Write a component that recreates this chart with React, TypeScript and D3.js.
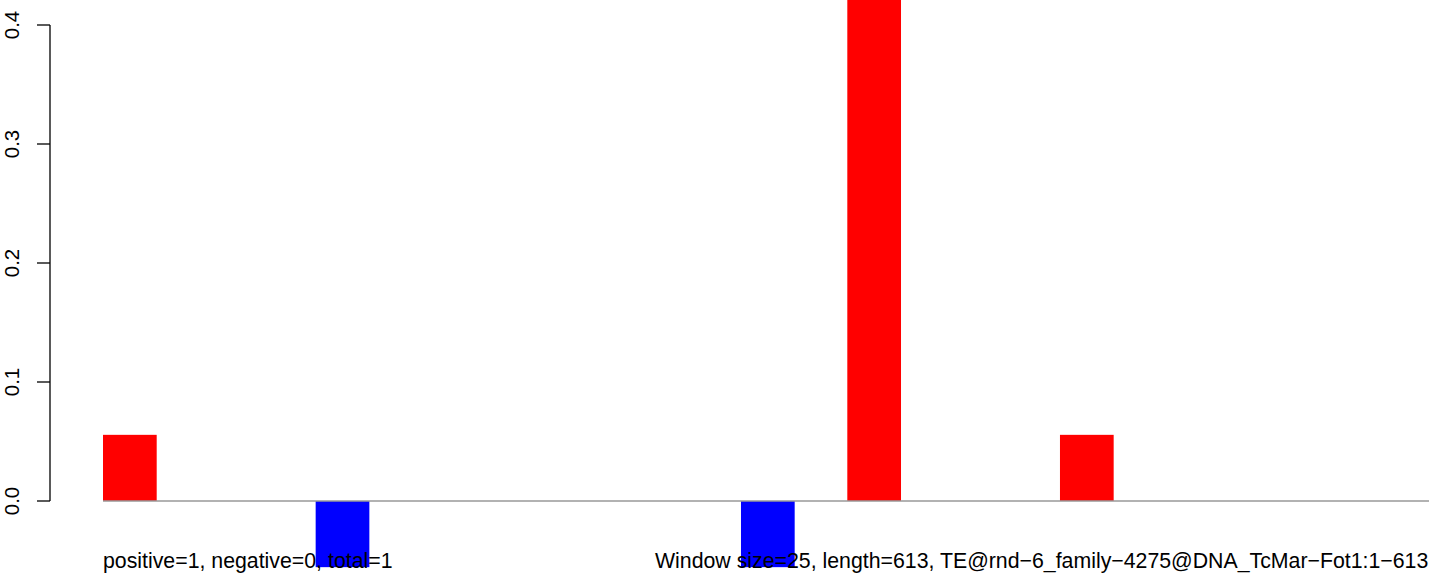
import { scaleLinear } from "d3";

// one value per 25bp window (only the first 13 windows fall inside the picture)
const windows = [
  0.0556, 0, -0.0556, 0, 0, 0, -0.0556, 0.5, 0, 0.0556, 0, 0, 0, 0, 0, 0, 0, 0, 0, 0, 0, 0, 0, 0, 0,
];
const yTicks = [0, 0.1, 0.2, 0.3, 0.4];
const leftNote = "positive=1, negative=0, total=1";
const rightNote = "Window size=25, length=613, TE@rnd\u22126_family\u22124275@DNA_TcMar\u2212Fot1:1\u2212613";

const W = 1429;
const H = 573;
const font = "'Liberation Sans', Arial, Helvetica, sans-serif";

export default function App() {
  const y = scaleLinear().domain([0, 0.4]).range([501, 25]);
  const x = scaleLinear().domain([0, windows.length]).range([103, 103 + windows.length * 106.33]);
  const barW = (x(1) - x(0)) * 0.505;

  return (
    <div>
      <style>{`body{margin:0}`}</style>
      <svg width={W} height={H} style={{ display: "block", background: "#fff" }} fontFamily={font}>
        {/* axis */}
        <line x1={50} x2={50} y1={y(0)} y2={y(0.4)} stroke="#000" strokeWidth={1.3} />
        {yTicks.map((t) => (
          <g key={t}>
            <line x1={37} x2={50} y1={y(t)} y2={y(t)} stroke="#000" strokeWidth={1.3} />
            <text
              transform={`translate(18.5,${y(t)}) rotate(-90)`}
              textAnchor="middle"
              fontSize={20.5}
              fill="#000"
            >
              {t.toFixed(1)}
            </text>
          </g>
        ))}

        {/* bars */}
        {windows.map((v, i) =>
          v === 0 ? null : (
            <rect
              key={i}
              x={x(i)}
              width={barW}
              y={v > 0 ? y(v) : y(0)}
              height={Math.abs(y(v) - y(0))}
              fill={v > 0 ? "#ff0000" : "#0000ff"}
            />
          )
        )}

        {/* zero line */}
        <line x1={x(0)} x2={x(windows.length)} y1={y(0)} y2={y(0)} stroke="#999" strokeWidth={1.3} />

        <text x={103} y={568} fontSize={21.3} fill="#000">
          {leftNote}
        </text>
        <text x={655} y={568} fontSize={21.3} fill="#000">
          {rightNote}
        </text>
      </svg>
    </div>
  );
}
